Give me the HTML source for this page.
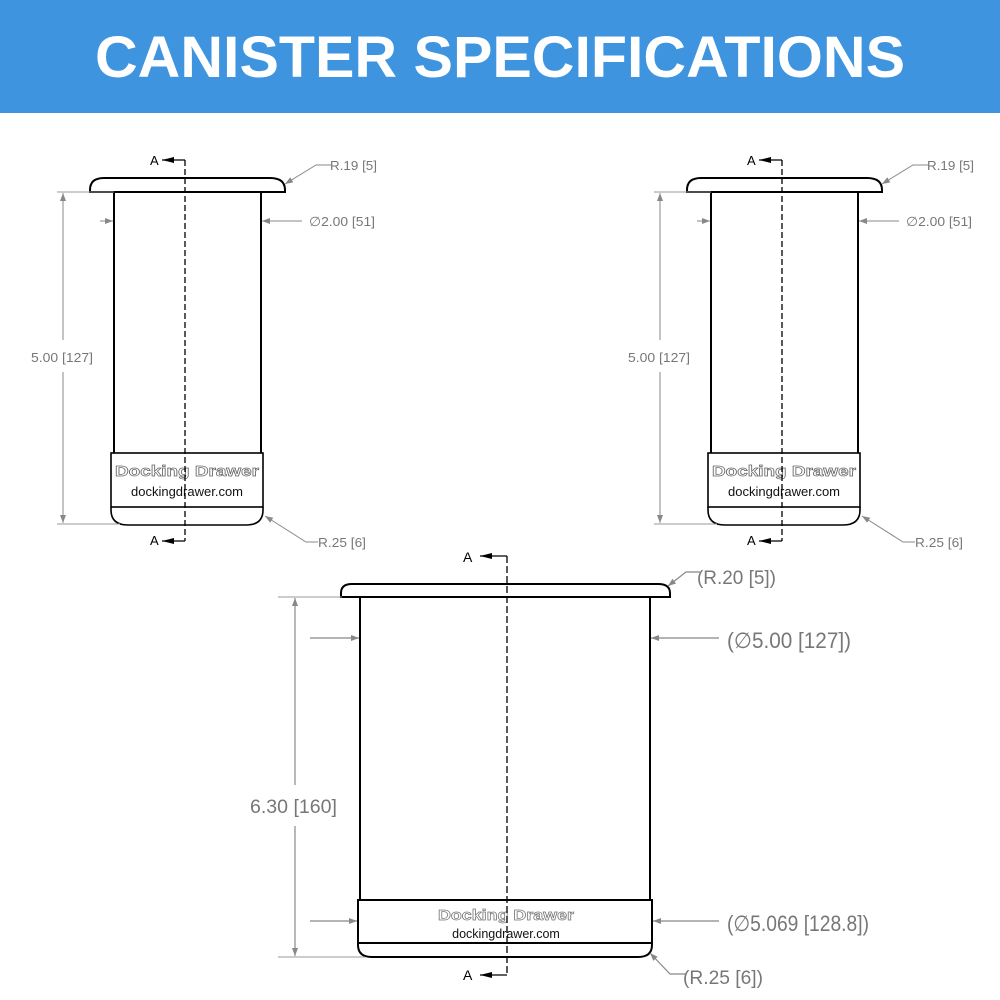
<!DOCTYPE html>
<html><head><meta charset="utf-8"><style>
html,body{margin:0;padding:0;background:#fff}
svg{display:block}
</style></head><body>
<svg width="1000" height="1000" viewBox="0 0 1000 1000" xmlns="http://www.w3.org/2000/svg" font-family="Liberation Sans, sans-serif">
<defs>
<marker id="ar" markerWidth="8" markerHeight="6" refX="8" refY="3" orient="auto" markerUnits="userSpaceOnUse"><path d="M0,0 L8,3 L0,6 z" fill="#888"/></marker>
<marker id="ab" markerWidth="12" markerHeight="6" refX="12" refY="3" orient="auto" markerUnits="userSpaceOnUse"><path d="M0,0 L12,3 L0,6 z" fill="#000"/></marker>
<g id="small">
  <path d="M90,192 L90,190 Q90,178 104,178 L270,178 Q285,178 285,190 L285,192 Z" fill="#fff" stroke="#000" stroke-width="2"/>
  <line x1="114" y1="192" x2="114" y2="453" stroke="#000" stroke-width="2"/>
  <line x1="261" y1="192" x2="261" y2="453" stroke="#000" stroke-width="2"/>
  <rect x="111" y="453" width="152" height="54" fill="#fff" stroke="#000" stroke-width="1.6"/>
  <path d="M111,507 L111,510 Q111,525 128,525 L246,525 Q263,525 263,510 L263,507" fill="none" stroke="#000" stroke-width="1.6"/>
  <text x="187" y="476" text-anchor="middle" font-size="15" font-weight="bold" fill="#fff" stroke="#666" stroke-width="0.7" textLength="144" lengthAdjust="spacingAndGlyphs">Docking Drawer</text>
  <text x="187" y="496" text-anchor="middle" font-size="13" fill="#111">dockingdrawer.com</text>
  <line x1="185" y1="160" x2="185" y2="541" stroke="#000" stroke-width="1.3" stroke-dasharray="6,3"/>
  <line x1="185" y1="160" x2="162" y2="160" stroke="#000" stroke-width="1.3" marker-end="url(#ab)"/>
  <line x1="185" y1="541" x2="162" y2="541" stroke="#000" stroke-width="1.3" marker-end="url(#ab)"/>
  <text x="150" y="165" font-size="13" fill="#000">A</text>
  <text x="150" y="545" font-size="13" fill="#000">A</text>
  <line x1="57" y1="192" x2="114" y2="192" stroke="#999" stroke-width="1"/>
  <line x1="57" y1="524" x2="120" y2="524" stroke="#999" stroke-width="1"/>
  <line x1="63" y1="340" x2="63" y2="193" stroke="#888" stroke-width="1" marker-end="url(#ar)"/>
  <line x1="63" y1="372" x2="63" y2="523" stroke="#888" stroke-width="1" marker-end="url(#ar)"/>
  <text x="62" y="362" text-anchor="middle" font-size="12.5" fill="#777" textLength="62" lengthAdjust="spacingAndGlyphs">5.00 [127]</text>
  <line x1="100" y1="221" x2="113" y2="221" stroke="#888" stroke-width="1" marker-end="url(#ar)"/>
  <line x1="302" y1="221" x2="262" y2="221" stroke="#888" stroke-width="1" marker-end="url(#ar)"/>
  <text x="309" y="226" font-size="13" fill="#777" textLength="66" lengthAdjust="spacingAndGlyphs">∅2.00 [51]</text>
  <polyline points="331,165 316,165 285,184" fill="none" stroke="#888" stroke-width="1" marker-end="url(#ar)"/>
  <text x="330" y="170" font-size="13" fill="#777" textLength="47" lengthAdjust="spacingAndGlyphs">R.19 [5]</text>
  <polyline points="318,542 306,542 265,516" fill="none" stroke="#888" stroke-width="1" marker-end="url(#ar)"/>
  <text x="318" y="547" font-size="13" fill="#777" textLength="48" lengthAdjust="spacingAndGlyphs">R.25 [6]</text>
</g>
</defs>
<rect x="0" y="0" width="1000" height="113" fill="#3e94df"/>
<text x="500" y="77" text-anchor="middle" font-size="58" font-weight="bold" fill="#fff" textLength="810" lengthAdjust="spacingAndGlyphs">CANISTER SPECIFICATIONS</text>

<use href="#small"/>
<use href="#small" transform="translate(597,0)"/>

<path d="M341,597 L341,593 Q341,584 352,584 L658,584 Q670,584 670,593 L670,597 Z" fill="#fff" stroke="#000" stroke-width="2"/>
<line x1="360" y1="597" x2="360" y2="900" stroke="#000" stroke-width="2"/>
<line x1="650" y1="597" x2="650" y2="900" stroke="#000" stroke-width="2"/>
<rect x="358" y="900" width="294" height="43" fill="#fff" stroke="#000" stroke-width="2"/>
<path d="M358,943 L358,945 Q358,957 372,957 L638,957 Q652,957 652,945 L652,943" fill="none" stroke="#000" stroke-width="2"/>
<text x="506" y="920" text-anchor="middle" font-size="15" font-weight="bold" fill="#fff" stroke="#777" stroke-width="0.7" textLength="136" lengthAdjust="spacingAndGlyphs">Docking Drawer</text>
<text x="506" y="938" text-anchor="middle" font-size="12.5" fill="#111">dockingdrawer.com</text>
<line x1="507" y1="556" x2="507" y2="975" stroke="#000" stroke-width="1.3" stroke-dasharray="7,3"/>
<line x1="507" y1="556" x2="480" y2="556" stroke="#000" stroke-width="1.3" marker-end="url(#ab)"/>
<line x1="507" y1="975" x2="480" y2="975" stroke="#000" stroke-width="1.3" marker-end="url(#ab)"/>
<text x="463" y="562" font-size="14" fill="#000">A</text>
<text x="463" y="980" font-size="14" fill="#000">A</text>
<line x1="278" y1="597" x2="342" y2="597" stroke="#999" stroke-width="1"/>
<line x1="278" y1="957" x2="365" y2="957" stroke="#999" stroke-width="1"/>
<line x1="295" y1="785" x2="295" y2="598" stroke="#888" stroke-width="1.2" marker-end="url(#ar)"/>
<line x1="295" y1="826" x2="295" y2="956" stroke="#888" stroke-width="1.2" marker-end="url(#ar)"/>
<text x="250" y="813" font-size="19" fill="#777" textLength="87" lengthAdjust="spacingAndGlyphs">6.30 [160]</text>
<line x1="310" y1="638" x2="359" y2="638" stroke="#888" stroke-width="1.2" marker-end="url(#ar)"/>
<line x1="719" y1="638" x2="651" y2="638" stroke="#888" stroke-width="1.2" marker-end="url(#ar)"/>
<text x="727" y="648" font-size="22" fill="#777" textLength="124" lengthAdjust="spacingAndGlyphs">(∅5.00 [127])</text>
<line x1="310" y1="921" x2="357" y2="921" stroke="#888" stroke-width="1.2" marker-end="url(#ar)"/>
<line x1="719" y1="921" x2="653" y2="921" stroke="#888" stroke-width="1.2" marker-end="url(#ar)"/>
<text x="727" y="931" font-size="22" fill="#777" textLength="142" lengthAdjust="spacingAndGlyphs">(∅5.069 [128.8])</text>
<polyline points="700,572 686,572 668,586" fill="none" stroke="#888" stroke-width="1.2" marker-end="url(#ar)"/>
<text x="697" y="584" font-size="19" fill="#777" textLength="79" lengthAdjust="spacingAndGlyphs">(R.20 [5])</text>
<polyline points="686,974 670,974 650,953" fill="none" stroke="#888" stroke-width="1.2" marker-end="url(#ar)"/>
<text x="683" y="984" font-size="19" fill="#777" textLength="80" lengthAdjust="spacingAndGlyphs">(R.25 [6])</text>
</svg>
</body></html>
